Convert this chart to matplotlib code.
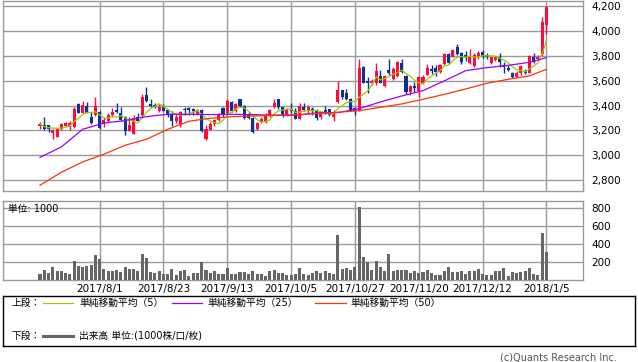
import numpy as np
import matplotlib.pyplot as plt
import pandas as pd

plt.rcParams['font.family'] = ['DejaVu Sans', 'Noto Sans CJK JP']

# x-axis labels (trading-day index of each label)
tick_days = [14, 29, 44, 59, 74, 89, 104, 119]
tick_labels = ['2017/8/1', '2017/8/23', '2017/9/13', '2017/10/5',
               '2017/10/27', '2017/11/20', '2017/12/12', '2018/1/5']

opens = np.array([3236, 3247, 3241, 3183, 3150, 3209, 3236, 3231, 3225, 3413,
                  3343, 3397, 3311, 3322, 3349, 3252, 3279, 3322, 3365, 3338,
                  3306, 3199, 3172, 3306, 3322, 3488, 3413, 3407, 3354, 3386,
                  3365, 3332, 3274, 3247, 3370, 3381, 3375, 3332, 3365, 3129,
                  3204, 3252, 3284, 3381, 3338, 3429, 3359, 3450, 3397, 3332,
                  3300, 3209, 3268, 3279, 3316, 3386, 3450, 3386, 3322, 3375,
                  3354, 3295, 3391, 3354, 3375, 3365, 3306, 3365, 3370, 3311,
                  3429, 3525, 3498, 3456, 3381, 3365, 3713, 3595, 3579, 3579,
                  3638, 3557, 3686, 3616, 3638, 3745, 3638, 3509, 3557, 3520,
                  3584, 3648, 3697, 3702, 3670, 3734, 3814, 3793, 3873, 3820,
                  3809, 3739, 3718, 3788, 3830, 3809, 3739, 3766, 3793, 3729,
                  3702, 3664, 3632, 3659, 3680, 3664, 3793, 3771, 3814, 4045])
highs = np.array([3268, 3306, 3241, 3215, 3215, 3258, 3268, 3279, 3386, 3423,
                  3440, 3429, 3349, 3472, 3354, 3311, 3338, 3381, 3423, 3391,
                  3316, 3311, 3322, 3338, 3493, 3547, 3456, 3418, 3413, 3413,
                  3370, 3354, 3338, 3354, 3386, 3391, 3381, 3370, 3370, 3241,
                  3268, 3295, 3338, 3386, 3450, 3434, 3423, 3456, 3407, 3349,
                  3306, 3268, 3311, 3338, 3375, 3450, 3456, 3391, 3381, 3418,
                  3381, 3418, 3418, 3402, 3386, 3375, 3354, 3397, 3375, 3365,
                  3595, 3525, 3531, 3461, 3386, 3771, 3718, 3632, 3616, 3739,
                  3686, 3643, 3771, 3713, 3755, 3777, 3643, 3568, 3589, 3638,
                  3643, 3734, 3723, 3723, 3734, 3820, 3820, 3852, 3895, 3830,
                  3841, 3857, 3820, 3841, 3846, 3820, 3793, 3793, 3825, 3750,
                  3723, 3670, 3675, 3729, 3691, 3809, 3820, 3804, 4114, 4200])
lows = np.array([3215, 3204, 3191, 3134, 3150, 3204, 3231, 3204, 3220, 3338,
                 3338, 3338, 3252, 3316, 3209, 3231, 3268, 3311, 3338, 3274,
                 3166, 3199, 3172, 3274, 3311, 3429, 3386, 3381, 3349, 3354,
                 3311, 3236, 3263, 3231, 3322, 3322, 3322, 3322, 3188, 3124,
                 3204, 3236, 3279, 3311, 3332, 3349, 3349, 3391, 3295, 3295,
                 3183, 3204, 3258, 3263, 3311, 3381, 3375, 3311, 3316, 3343,
                 3290, 3290, 3354, 3343, 3322, 3284, 3295, 3332, 3316, 3279,
                 3423, 3450, 3445, 3354, 3322, 3359, 3579, 3504, 3568, 3568,
                 3579, 3547, 3643, 3606, 3632, 3659, 3493, 3482, 3509, 3472,
                 3573, 3643, 3654, 3638, 3664, 3729, 3734, 3788, 3804, 3734,
                 3761, 3734, 3713, 3771, 3782, 3771, 3734, 3755, 3713, 3659,
                 3675, 3622, 3622, 3648, 3654, 3659, 3745, 3761, 3798, 3975])
closes = np.array([3252, 3209, 3209, 3204, 3215, 3252, 3258, 3258, 3375, 3343,
                   3402, 3343, 3263, 3397, 3220, 3284, 3327, 3349, 3349, 3284,
                   3199, 3241, 3300, 3279, 3466, 3440, 3397, 3386, 3386, 3359,
                   3322, 3279, 3306, 3349, 3365, 3365, 3354, 3365, 3193, 3215,
                   3252, 3284, 3332, 3322, 3440, 3359, 3413, 3397, 3300, 3300,
                   3188, 3258, 3290, 3322, 3365, 3423, 3386, 3322, 3365, 3354,
                   3295, 3397, 3365, 3386, 3354, 3300, 3349, 3338, 3322, 3349,
                   3525, 3466, 3456, 3359, 3359, 3702, 3584, 3584, 3600, 3680,
                   3584, 3638, 3664, 3697, 3750, 3670, 3509, 3557, 3541, 3632,
                   3632, 3702, 3675, 3670, 3723, 3814, 3745, 3846, 3814, 3750,
                   3788, 3788, 3809, 3820, 3793, 3788, 3788, 3788, 3750, 3713,
                   3686, 3627, 3664, 3718, 3659, 3798, 3750, 3793, 4071, 4194])
volumes = np.array([67, 111, 81, 144, 100, 100, 78, 70, 211, 152,
                    148, 155, 167, 278, 233, 122, 104, 104, 111, 89,
                    141, 122, 122, 100, 289, 244, 85, 81, 100, 67,
                    67, 122, 52, 100, 107, 44, 78, 78, 196, 111,
                    81, 100, 63, 70, 133, 63, 67, 89, 89, 70,
                    100, 70, 67, 44, 100, 111, 81, 81, 59, 55,
                    67, 133, 67, 59, 78, 100, 78, 100, 78, 67,
                    500, 122, 133, 111, 144, 810, 255, 200, 111, 211,
                    144, 100, 289, 100, 111, 111, 111, 78, 100, 78,
                    89, 111, 78, 50, 55, 100, 144, 89, 89, 100,
                    67, 100, 100, 122, 67, 55, 55, 100, 100, 133,
                    44, 89, 78, 89, 100, 133, 67, 55, 522, 311])

# 25 / 50 day moving averages (history before the window is not shown)
ma_days = [0, 5, 10, 15, 20, 25, 30, 35, 40, 45, 50, 55, 60,
           65, 70, 75, 80, 85, 90, 95, 100, 105, 110, 115, 119]
ma25 = [2984, 3067, 3209, 3260, 3279, 3311, 3330, 3330, 3327, 3330, 3327, 3322, 3322,
        3340, 3343, 3375, 3429, 3477, 3520, 3598, 3680, 3705, 3723, 3747, 3785]
ma50 = [2760, 2864, 2947, 3009, 3081, 3129, 3209, 3274, 3298, 3311, 3316, 3322, 3327,
        3335, 3346, 3359, 3386, 3413, 3450, 3490, 3533, 3579, 3611, 3638, 3691]

days = np.arange(len(closes))
ma5 = pd.Series(closes).rolling(5, min_periods=1).mean()

red = '#ff0a3c'
blue = '#0a3296'
grid_c = '#9a9a9a'
W, H = 638, 362

fig = plt.figure(figsize=(W / 100, H / 100), dpi=100)
ax = fig.add_axes([3 / W, 1 - 190.7 / H, 580 / W, 189.7 / H])
ax_v = fig.add_axes([3 / W, 1 - 280 / H, 580 / W, 78.7 / H])

# candles
colors = np.where(closes >= opens, red, blue)
ax.vlines(days, lows, highs, colors=colors, lw=1, zorder=3)
body_low = np.minimum(opens, closes)
body_h = np.maximum(np.abs(closes - opens), 5)
ax.bar(days, body_h, bottom=body_low, width=0.72, color=colors, lw=0, zorder=3)

ax.plot(days, ma5, color='#99cc00', lw=0.9, zorder=4)
ax.plot(ma_days, ma25, color='#9900ff', lw=0.9, zorder=4)
ax.plot(ma_days, ma50, color='#ff3300', lw=0.9, zorder=4)

ax.set_xlim(-8.7, 127.6)
ax.set_ylim(2716, 4240)
ax.set_yticks(range(2800, 4201, 200))
ax.set_yticklabels([f'{v:,}' for v in range(2800, 4201, 200)])
ax.set_xticks(tick_days)
ax.tick_params(length=0, labelbottom=False, labelleft=False, labelright=True,
               labelsize=7.5, pad=6)

# volume
ax_v.bar(days, volumes, width=0.72, color='#666666', lw=0, zorder=3)
ax_v.set_xlim(-8.7, 127.6)
ax_v.set_ylim(0, 874)
ax_v.set_yticks([200, 400, 600, 800])
ax_v.set_xticks(tick_days)
ax_v.set_xticklabels(tick_labels)
ax_v.tick_params(length=0, labelleft=False, labelright=True, labelsize=7.5, pad=6)
ax_v.tick_params(axis='x', pad=3)
ax_v.text(5 / 580, 0.902, '単位: 1000', transform=ax_v.transAxes, fontsize=7,
          va='center', ha='left', zorder=5)

for a in (ax, ax_v):
    a.grid(color=grid_c, lw=1, zorder=0)
    a.set_axisbelow(True)
    for s in a.spines.values():
        s.set_color(grid_c)
        s.set_linewidth(1)

# legend box
lg = fig.add_axes([3 / W, 1 - 346 / H, 632 / W, 50 / H])
lg.set_xlim(0, 632)
lg.set_ylim(50, 0)
lg.set_xticks([])
lg.set_yticks([])
for s in lg.spines.values():
    s.set_color('black')
    s.set_linewidth(1)
fs = 7
lg.text(9, 7.3, '上段：', fontsize=fs, va='center')
lg.plot([40, 70], [7.3, 7.3], color='#99cc00', lw=0.9)
lg.text(76, 7.3, '単純移動平均（5）', fontsize=fs, va='center')
lg.plot([169, 199], [7.3, 7.3], color='#9900ff', lw=0.9)
lg.text(204, 7.3, '単純移動平均（25）', fontsize=fs, va='center')
lg.plot([312, 343], [7.3, 7.3], color='#ff3300', lw=0.9)
lg.text(347, 7.3, '単純移動平均（50）', fontsize=fs, va='center')
lg.text(9, 40, '下段：', fontsize=fs, va='center')
lg.plot([40, 70], [40, 40], color='#666666', lw=2.2)
lg.text(76, 40, '出来高 単位:(1000株/口/枚)', fontsize=fs, va='center')

fig.text(617 / W, 1 - 357.7 / H, '(c)Quants Research Inc.', fontsize=7,
         color='#555555', ha='right', va='center')

fig.savefig('out.png', dpi=100)
